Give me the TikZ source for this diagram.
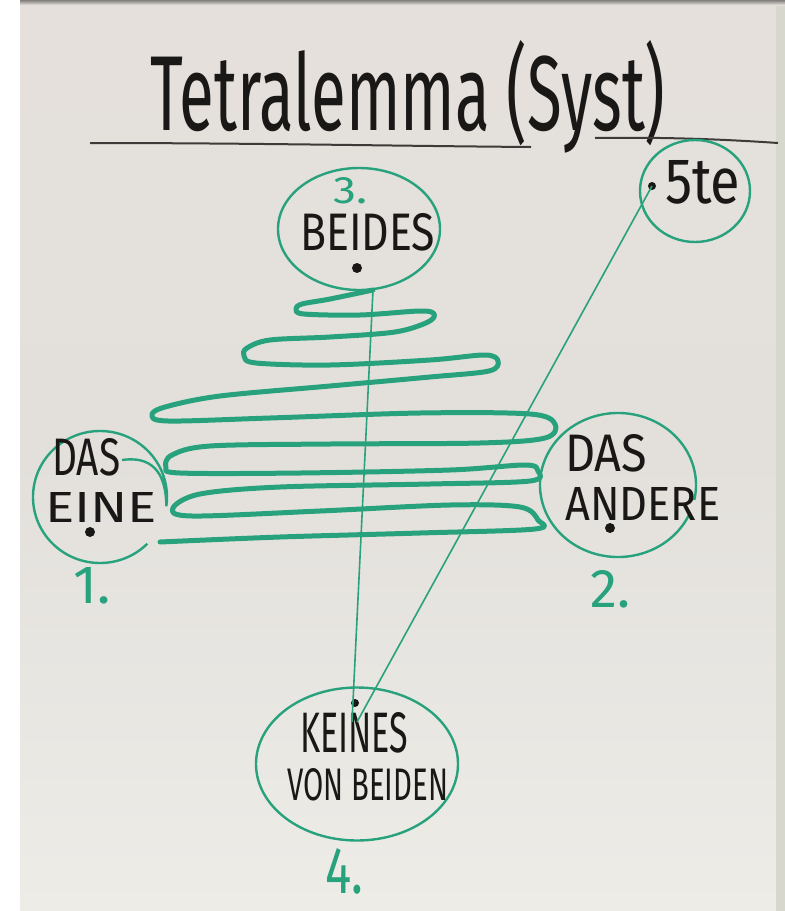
\documentclass[tikz,border=0pt]{standalone}
\usepackage{fontspec}
\setmainfont{Fira Sans}
\usepackage{graphicx}
\usetikzlibrary{shapes.geometric,calc}
\definecolor{marker}{RGB}{40,162,124}
\definecolor{ink}{RGB}{26,24,22}
\definecolor{paperTop}{RGB}{229,224,219}
\definecolor{paperMid}{RGB}{227,224,220}
\definecolor{paperLow}{RGB}{237,236,231}
\definecolor{rim}{RGB}{130,128,124}
\definecolor{edge}{RGB}{214,215,205}
% handwritten label squeezed into a given width and height (pt)
\newcommand{\hw}[3]{\resizebox{#1pt}{#2pt}{#3}}
\begin{document}
\begin{tikzpicture}[x=1pt,y=-1pt,
  lbl/.style={anchor=base west,inner sep=0pt,text=ink},
  num/.style={anchor=base west,inner sep=0pt,text=marker},
  dot/.style={circle,fill=ink,inner sep=0pt,minimum size=10pt},
  ring/.style={draw=marker,line width=2.4pt},
  ellring/.style={ellipse,draw=marker,line width=2.4pt,inner sep=0pt},
  spiral/.style={draw=marker,line width=5pt,line cap=round,line join=round},
  ray/.style={draw=marker,line width=1.6pt},
  rule/.style={draw=ink!85,line width=2pt}]
% white margin, then the sheet of paper
\fill[white] (0,0) rectangle (785,911);
\shade[top color=paperTop,bottom color=paperLow,middle color=paperMid] (20,0) rectangle (785,911);
\fill[edge] (776,0) rectangle (785,911);
\shade[top color=rim,bottom color=paperTop] (20,0) rectangle (785,5);
\useasboundingbox (0,0) rectangle (785,911);

% title and its underlines
\node[lbl] (title) at (150,130) {\hw{515}{90}{Tetralemma (Syst)}};
\coordinate (ulA) at (90,143);
\coordinate (ulB) at (531,147);
\coordinate (urA) at (595,138);
\coordinate (urB) at (778,143);
\draw[rule] (ulA) .. controls (250,143) and (400,146) .. (ulB);
\draw[rule] (urA) .. controls (660,137) and (720,139) .. (urB);

% 3. BEIDES
\node[ellring,minimum width=162pt,minimum height=122pt] (beides) at (359,229) {};
\node[num] (n3) at (333,203) {\hw{34}{26}{3.}};
\node[lbl] (tBeides) at (300,250) {\hw{135}{37}{BEIDES}};
\node[dot] (dBeides) at (357,268) {};

% 5te
\node[ellring,minimum width=110pt,minimum height=102pt] (fuenf) at (695,191) {};
\node[dot,minimum size=8pt] (dFuenf) at (652,186) {};
\node[lbl] (tFuenf) at (665,203) {\hw{75}{43}{5te}};

% 1. DAS EINE
\coordinate (eine) at (100,497);
\draw[ring] (eine) ++(315:67pt and 66pt)
  arc[start angle=315,end angle=-8,x radius=67pt,y radius=66pt]
  .. controls (166,470) and (150,456) .. (122,460);
\node[lbl] (tDas1) at (52,475) {\hw{68}{37}{DAS}};
\node[lbl] (tEine) at (45,522) {\hw{112}{30}{EINE}};
\node[dot] (dEine) at (90,532) {};
\node[num] (n1) at (73,603) {\hw{37}{36}{1.}};

% 2. DAS ANDERE
\coordinate (andere) at (618,485);
\draw[ring] (andere) ++(335:78pt and 72pt)
  arc[start angle=335,end angle=-12,x radius=78pt,y radius=72pt];
\node[lbl] (tDas2) at (565,471) {\hw{82}{37}{DAS}};
\node[lbl] (tAndere) at (565,520) {\hw{155}{33}{ANDERE}};
\node[dot] (dAndere) at (610,528) {};
\node[num] (n2) at (590,607) {\hw{40}{37}{2.}};

% 4. KEINES VON BEIDEN
\node[ellring,minimum width=202pt,minimum height=153pt] (keines) at (357,764) {};
\node[dot,minimum size=8pt] (dKeines) at (355,703) {};
\node[lbl] (tKeines) at (300,752) {\hw{108}{40}{KEINES}};
\node[lbl] (tVon) at (287,800) {\hw{161}{32}{VON BEIDEN}};
\node[num] (n4) at (325,893) {\hw{38}{45}{4.}};

% the two rays into the fourth position
\coordinate (spiralTop) at (373,290);
\coordinate (meetA) at (352,722);
\coordinate (meetB) at (357,722);
\draw[ray] (spiralTop) -- (meetA);
\draw[ray] (dFuenf.center) -- (meetB);

% back-and-forth swing between the two poles
\draw[spiral] plot[smooth,tension=0.55] coordinates {
  (spiralTop) (330,299) (302,304) (296,309) (304,314)
  (360,315) (420,311) (434,314) (428,322) (395,332)
  (330,337) (270,340) (247,348) (244,356) (256,363)
  (330,365) (430,360) (485,355) (498,361) (489,371)
  (430,377) (330,386) (220,396) (165,407) (152,415) (168,421)
  (270,418) (420,413) (530,414) (555,424) (545,438)
  (480,443) (330,444) (210,446) (172,455) (166,467) (180,473)
  (300,473) (450,470) (525,465) (538,471) (530,481)
  (430,484) (280,487) (200,494) (173,508) (192,516)
  (320,511) (450,505) (520,507) (538,520) (535,529)
  (420,533) (280,537) (160,542)};
\end{tikzpicture}
\end{document}
